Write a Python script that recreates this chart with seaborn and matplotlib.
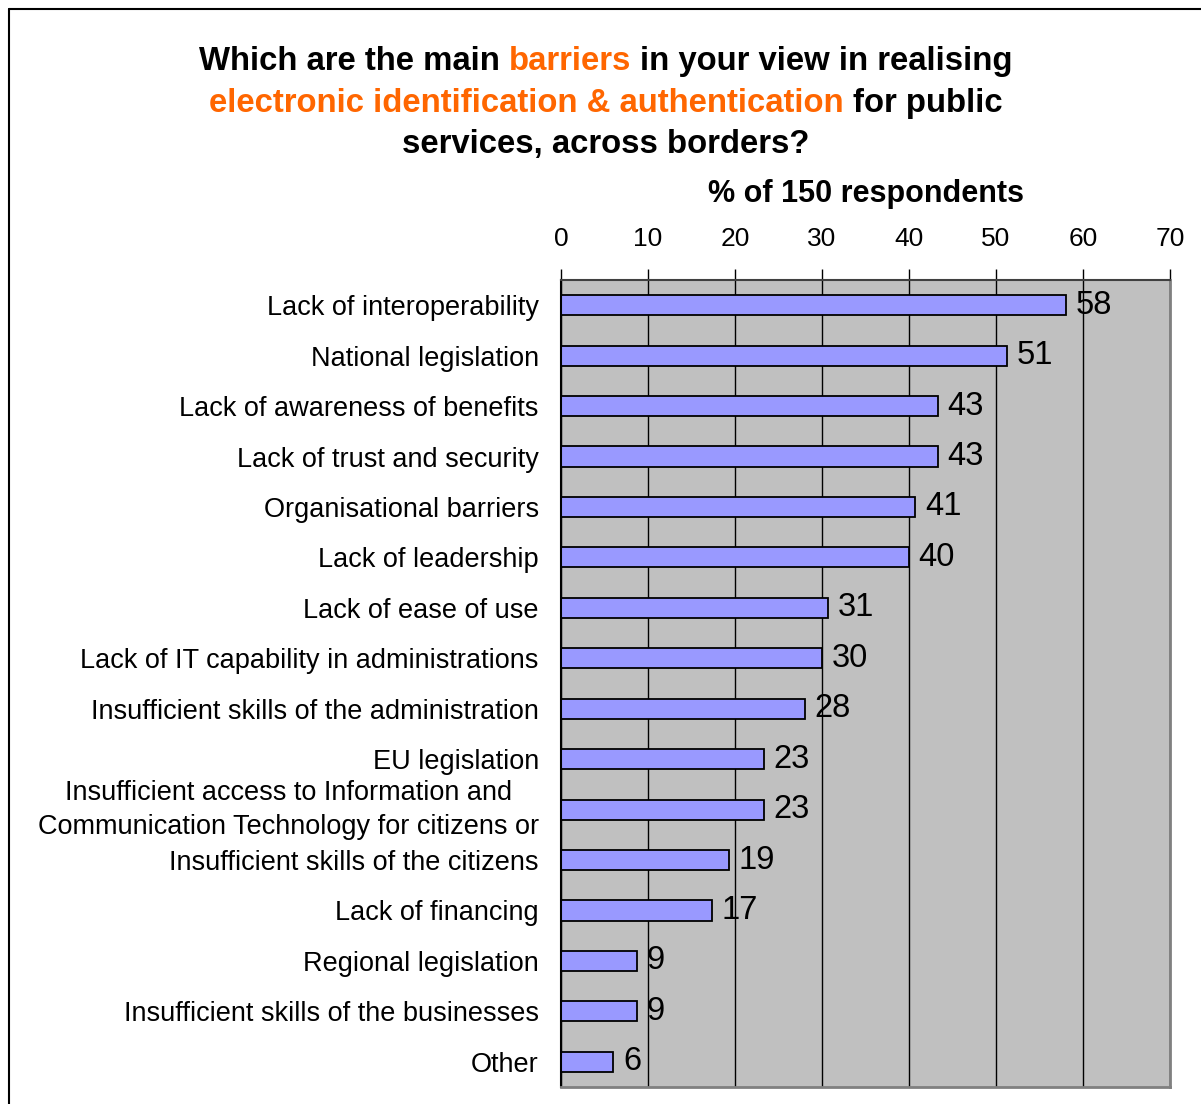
import matplotlib
matplotlib.use("Agg")
import matplotlib.pyplot as plt
import seaborn as sns
import pandas as pd
from matplotlib.lines import Line2D

# survey answers, % of 150 respondents (bar lengths)
categories = [
    "Lack of interoperability",
    "National legislation",
    "Lack of awareness of benefits",
    "Lack of trust and security",
    "Organisational barriers",
    "Lack of leadership",
    "Lack of ease of use",
    "Lack of IT capability in administrations",
    "Insufficient skills of the administration",
    "EU legislation",
    "Insufficient access to Information and\nCommunication Technology for citizens or",
    "Insufficient skills of the citizens",
    "Lack of financing",
    "Regional legislation",
    "Insufficient skills of the businesses",
    "Other",
]
values = [58.0, 51.3, 43.3, 43.3, 40.7, 40.0, 30.7, 30.0, 28.0, 23.3, 23.3, 19.3, 17.3, 8.7, 8.7, 6.0]
value_labels = ["58", "51", "43", "43", "41", "40", "31", "30", "28", "23", "23", "19", "17", "9", "9", "6"]
x_ticks = [0, 10, 20, 30, 40, 50, 60, 70]

ORANGE = "#FF6600"
BAR = "#9999FF"

sns.set_style("white")
plt.rcParams["font.family"] = ["Liberation Sans", "DejaVu Sans"]
plt.rcParams["text.color"] = "black"
plt.rcParams["axes.labelcolor"] = "black"
plt.rcParams["xtick.color"] = "black"
plt.rcParams["ytick.color"] = "black"

df = pd.DataFrame({"barrier": categories, "share": values})

W, H = 1201, 1104
fig = plt.figure(figsize=(W / 100, H / 100), dpi=100)
ax = fig.add_axes([561 / W, 1 - 1087 / H, (1170 - 561) / W, (1087 - 280) / H])

sns.barplot(data=df, x="share", y="barrier", orient="h", color=BAR,
            saturation=1, edgecolor="black", linewidth=1.3, width=0.4,
            errorbar=None, ax=ax)

ax.set_facecolor("#C0C0C0")
ax.set_xlim(0, 70)
ax.set_ylim(len(categories) - 0.5, -0.5)
ax.set_axisbelow(True)
ax.grid(axis="x", color="black", linewidth=1)
ax.grid(axis="y", visible=False)

# x axis on top
ax.xaxis.tick_top()
ax.xaxis.set_label_position("top")
ax.set_xticks(x_ticks)
ax.tick_params(axis="x", length=8, width=1, color="black", pad=13, labelsize=19,
               labelcolor="black")
ax.set_xlabel("% of 150 respondents", fontsize=22, fontweight="bold", labelpad=18,
              color="black")
ax.set_ylabel("")

# y: labels without ticks, small gray ticks between categories
ax.tick_params(axis="y", which="major", length=0, pad=16, labelsize=19.5,
               labelcolor="black")
ax.set_yticks([i - 0.5 for i in range(len(categories) + 1)], minor=True)
ax.tick_params(axis="y", which="minor", length=10, width=1.5, color="#808080")
for lbl in ax.get_yticklabels():
    if "\n" in lbl.get_text():
        lbl.set_multialignment("center")
        lbl.set_linespacing(1.4)
        lbl.set_verticalalignment("center")

ax.bar_label(ax.containers[0], labels=value_labels, padding=7, fontsize=23.5,
             color="black")

ax.spines["left"].set_color("black")
ax.spines["left"].set_linewidth(1.5)
ax.spines["top"].set_color("#404040")
ax.spines["top"].set_linewidth(1.5)
for s in ["right", "bottom"]:
    ax.spines[s].set_color("#808080")
    ax.spines[s].set_linewidth(2)

# multi-coloured title, one line at a time
title_lines = [
    [("Which are the main", "black"), ("barriers", ORANGE), ("in your view in realising", "black")],
    [("electronic identification & authentication", ORANGE), ("for public", "black")],
    [("services, across borders?", "black")],
]
baselines = [70, 112, 153]
renderer = fig.canvas.get_renderer()
tkw = dict(fontsize=23.7, fontweight="bold", va="baseline", ha="left")
probe1 = fig.text(0, 0, "x x", **tkw)
probe2 = fig.text(0, 0, "xx", **tkw)
space_w = probe1.get_window_extent(renderer).width - probe2.get_window_extent(renderer).width
probe1.remove()
probe2.remove()

for parts, yb in zip(title_lines, baselines):
    texts = [fig.text(0, 1 - yb / H, s, color=c, **tkw) for s, c in parts]
    widths = [t.get_window_extent(renderer).width for t in texts]
    total = sum(widths) + space_w * (len(widths) - 1)
    x = 606 - total / 2
    for t, w in zip(texts, widths):
        t.set_x(x / W)
        x += w + space_w

# frame round the figure
fig.add_artist(Line2D([9 / W, 9 / W], [0, 1 - 9 / H], color="black", linewidth=1.5))
fig.add_artist(Line2D([9 / W, 1], [1 - 9 / H, 1 - 9 / H], color="black", linewidth=1.5))

fig.savefig("out.png", dpi=100)
